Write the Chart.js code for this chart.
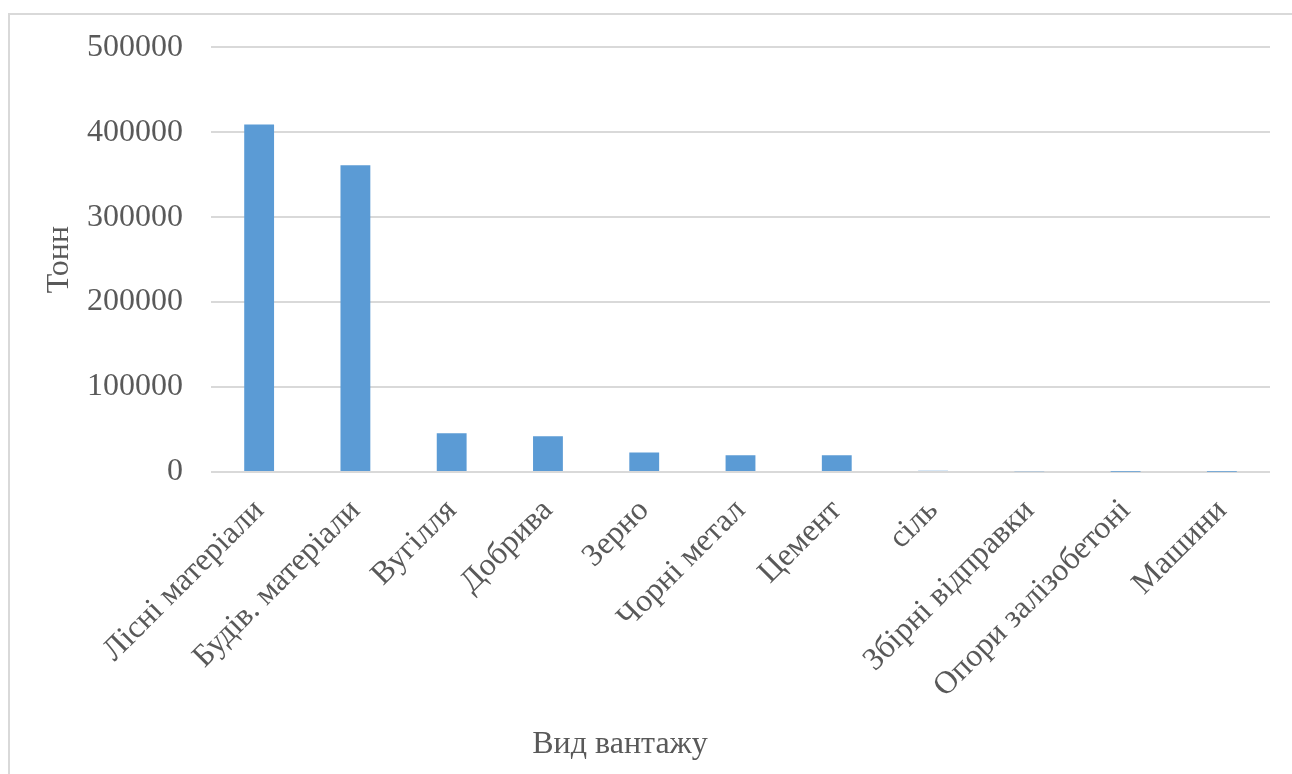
<!DOCTYPE html>
<html lang="uk">
<head>
<meta charset="utf-8">
<title>Вид вантажу</title>
<script src="https://cdn.jsdelivr.net/npm/chart.js@4/dist/chart.umd.min.js"></script>
<style>
  html, body { margin: 0; padding: 0; background: #ffffff; overflow: hidden; }
  #wrap { position: relative; width: 1292px; height: 774px; }
  #frame {
    position: absolute; left: 8px; top: 13px; width: 1400px; height: 900px;
    border-left: 2px solid #d9d9d9; border-top: 2px solid #d9d9d9;
  }
  canvas { position: absolute; left: 0; top: 0; }
</style>
</head>
<body>
<div id="wrap">
  <div id="frame"></div>
  <canvas id="chart" width="1292" height="774"></canvas>
</div>
<script>
// Cargo types and tonnage handled
const categories = [
  'Лісні матеріали', 'Будів. матеріали', 'Вугілля', 'Добрива', 'Зерно',
  'Чорні метал', 'Цемент', 'сіль', 'Збірні відправки', 'Опори залізобетоні', 'Машини'
];
const tonnes = [409000, 361000, 45500, 42000, 23000, 19600, 19600, 1500, 1000, 400, 300];
const yTicks = [0, 100000, 200000, 300000, 400000, 500000];
const xTitle = 'Вид вантажу';

const axisFont = { family: '"Liberation Serif", "Times New Roman", serif', size: 32 };
const textColor = '#595959';

// The category axis title sits centred on the whole chart rather than the plot area
const xTitlePlugin = {
  id: 'xTitle',
  afterDraw(chart) {
    const ctx = chart.ctx;
    ctx.save();
    ctx.font = `${axisFont.size}px ${axisFont.family}`;
    ctx.fillStyle = textColor;
    ctx.textAlign = 'center';
    ctx.textBaseline = 'middle';
    ctx.fillText(xTitle, 620, chart.height - 29);
    ctx.restore();
  }
};

new Chart(document.getElementById('chart'), {
  type: 'bar',
  data: {
    labels: categories,
    datasets: [{
      label: 'Тонн',
      data: tonnes,
      backgroundColor: '#5B9BD5',
      borderWidth: 0,
      categoryPercentage: 1,
      barPercentage: 0.31
    }]
  },
  plugins: [xTitlePlugin],
  options: {
    responsive: false,
    animation: false,
    layout: { padding: { top: 45, right: 22, left: 0, bottom: 0 } },
    plugins: { legend: { display: false }, tooltip: { enabled: false } },
    scales: {
      x: {
        grid: { display: false },
        border: { display: false },
        ticks: {
          color: textColor, font: axisFont,
          minRotation: 45, maxRotation: 45, autoSkip: false, padding: 12
        },
        title: { display: false },
        afterFit: (scale) => { scale.height = 302; }
      },
      y: {
        min: 0, max: 500000,
        afterBuildTicks: (scale) => { scale.ticks = yTicks.map(v => ({ value: v })); },
        grid: { color: '#d9d9d9', lineWidth: 2, drawTicks: false },
        border: { display: false },
        ticks: { color: textColor, font: axisFont, padding: 28, callback: (v) => String(v) },
        title: {
          display: true, text: 'Тонн', color: textColor, font: axisFont,
          padding: { top: 40, bottom: 0 }
        },
        afterFit: (scale) => { scale.width = 211; }
      }
    }
  }
});
</script>
</body>
</html>
